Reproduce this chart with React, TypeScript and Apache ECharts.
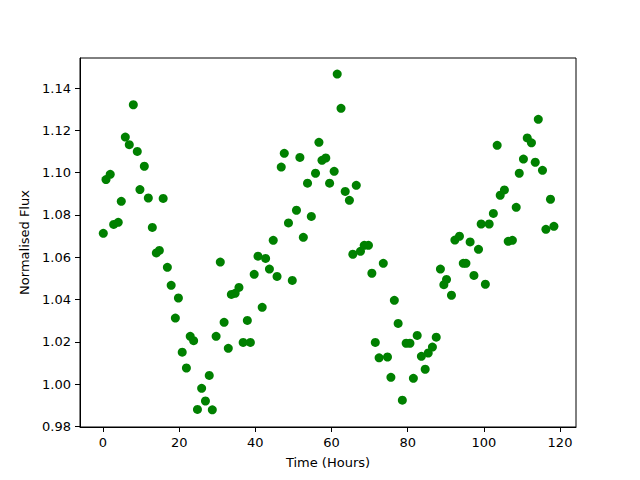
import React, { useEffect, useRef } from "react";
import * as echarts from "echarts";

const timeHours: number[] = [
  0.08, 0.79, 1.9, 2.8, 4.0, 4.8, 5.86, 6.9, 7.96, 9.0,
  9.7, 10.85, 11.9, 12.95, 14.0, 14.8, 15.8, 16.9, 17.9, 19.0,
  19.8, 20.8, 21.9, 22.9, 23.8, 24.8, 25.9, 26.9, 27.9, 28.7,
  29.7, 30.8, 31.8, 32.9, 33.7, 34.7, 35.7, 36.8, 37.9, 38.7,
  39.7, 40.7, 41.8, 42.7, 43.7, 44.7, 45.7, 46.8, 47.6, 48.7,
  49.7, 50.8, 51.7, 52.6, 53.7, 54.7, 55.8, 56.7, 57.5, 58.5,
  59.5, 60.7, 61.5, 62.5, 63.6, 64.7, 65.6, 66.5, 67.6, 68.6,
  69.7, 70.6, 71.5, 72.5, 73.6, 74.7, 75.6, 76.5, 77.5, 78.6,
  79.6, 80.6, 81.5, 82.5, 83.6, 84.6, 85.4, 86.5, 87.5, 88.6,
  89.5, 90.2, 91.5, 92.4, 93.6, 94.6, 95.3, 96.4, 97.4, 98.6,
  99.3, 100.4, 101.4, 102.5, 103.5, 104.3, 105.4, 106.4, 107.5, 108.5,
  109.3, 110.4, 111.4, 112.5, 113.5, 114.3, 115.4, 116.3, 117.5, 118.4,
];

const normalisedFlux: number[] = [
  1.0713, 1.0967, 1.0992, 1.0755, 1.0765, 1.0864, 1.1168, 1.1132, 1.1321, 1.110,
  1.092, 1.103, 1.088, 1.0741, 1.062, 1.0632, 1.0878, 1.0552, 1.0467, 1.0312,
  1.0407, 1.0151, 1.0076, 1.0226, 1.0205, 0.988, 0.998, 0.992, 1.0041, 0.9878,
  1.0226, 1.0577, 1.0292, 1.0169, 1.0424, 1.0429, 1.0457, 1.0197, 1.0301, 1.0197,
  1.0519, 1.0605, 1.0363, 1.0594, 1.0544, 1.068, 1.0509, 1.1026, 1.1091, 1.0762,
  1.049, 1.0822, 1.1072, 1.0694, 1.095, 1.0793, 1.0997, 1.1143, 1.1058, 1.1069,
  1.095, 1.1006, 1.1466, 1.1304, 1.0911, 1.0869, 1.0614, 1.094, 1.0628, 1.0656,
  1.0656, 1.0524, 1.0197, 1.0124, 1.0571, 1.0128, 1.0032, 1.0396, 1.0287, 0.9924,
  1.0193, 1.0193, 1.0027, 1.023, 1.0131, 1.007, 1.0147, 1.0175, 1.0222, 1.0544,
  1.047, 1.0495, 1.042, 1.0681, 1.0699, 1.0571, 1.0571, 1.0672, 1.0514, 1.0637,
  1.0757, 1.0472, 1.0757, 1.0807, 1.1129, 1.0893, 1.0918, 1.0675, 1.068, 1.0836,
  1.0997, 1.1064, 1.1164, 1.1141, 1.1049, 1.1252, 1.1011, 1.0732, 1.0874, 1.0746,
];

const xTicks: number[] = [0, 20, 40, 60, 80, 100, 120];
const yTicks: number[] = [0.98, 1.0, 1.02, 1.04, 1.06, 1.08, 1.1, 1.12, 1.14];

export default function App() {
  const ref = useRef<HTMLDivElement>(null);
  useEffect(() => {
    if (!ref.current) return;
    const chart = echarts.init(ref.current, null, { renderer: "svg" });
    const font = "DejaVu Sans";
    const data = timeHours.map((t, i) => [t, normalisedFlux[i]]);
    chart.setOption({
      animation: false,
      backgroundColor: "#ffffff",
      grid: {
        left: 80,
        right: 64,
        top: 58,
        bottom: 53,
        show: true,
        borderColor: "#000",
        borderWidth: 1,
        backgroundColor: "transparent",
      },
      xAxis: {
        type: "value",
        min: -6.04,
        max: 124.2,
        name: "Time (Hours)",
        nameLocation: "middle",
        nameGap: 29,
        nameTextStyle: { color: "#000", fontFamily: font, fontSize: 13 },
        axisLine: { show: true, onZero: false, lineStyle: { color: "#000", width: 1 } },
        axisTick: {
          show: true,
          inside: false,
          length: 5,
          customValues: xTicks,
          lineStyle: { color: "#000" },
        },
        axisLabel: {
          customValues: xTicks,
          formatter: (v: number) => String(v),
          color: "#000",
          fontFamily: font,
          fontSize: 13,
          margin: 9,
        },
        splitLine: { show: false },
      },
      yAxis: {
        type: "value",
        min: 0.9797,
        max: 1.1542,
        name: "Normalised Flux",
        nameLocation: "middle",
        nameGap: 46,
        nameTextStyle: { color: "#000", fontFamily: font, fontSize: 13 },
        axisLine: { show: true, onZero: false, lineStyle: { color: "#000", width: 1 } },
        axisTick: {
          show: true,
          inside: false,
          length: 5,
          customValues: yTicks,
          lineStyle: { color: "#000" },
        },
        axisLabel: {
          customValues: yTicks,
          formatter: (v: number) => v.toFixed(2),
          color: "#000",
          fontFamily: font,
          fontSize: 13,
          margin: 9,
        },
        splitLine: { show: false },
      },
      series: [
        {
          type: "scatter",
          data,
          symbol: "circle",
          symbolSize: 9,
          itemStyle: { color: "#008000", opacity: 1 },
        },
      ],
    });
    return () => chart.dispose();
  }, []);
  return <div ref={ref} style={{ width: 640, height: 480, position: "absolute", left: 0, top: 0 }} />;
}
